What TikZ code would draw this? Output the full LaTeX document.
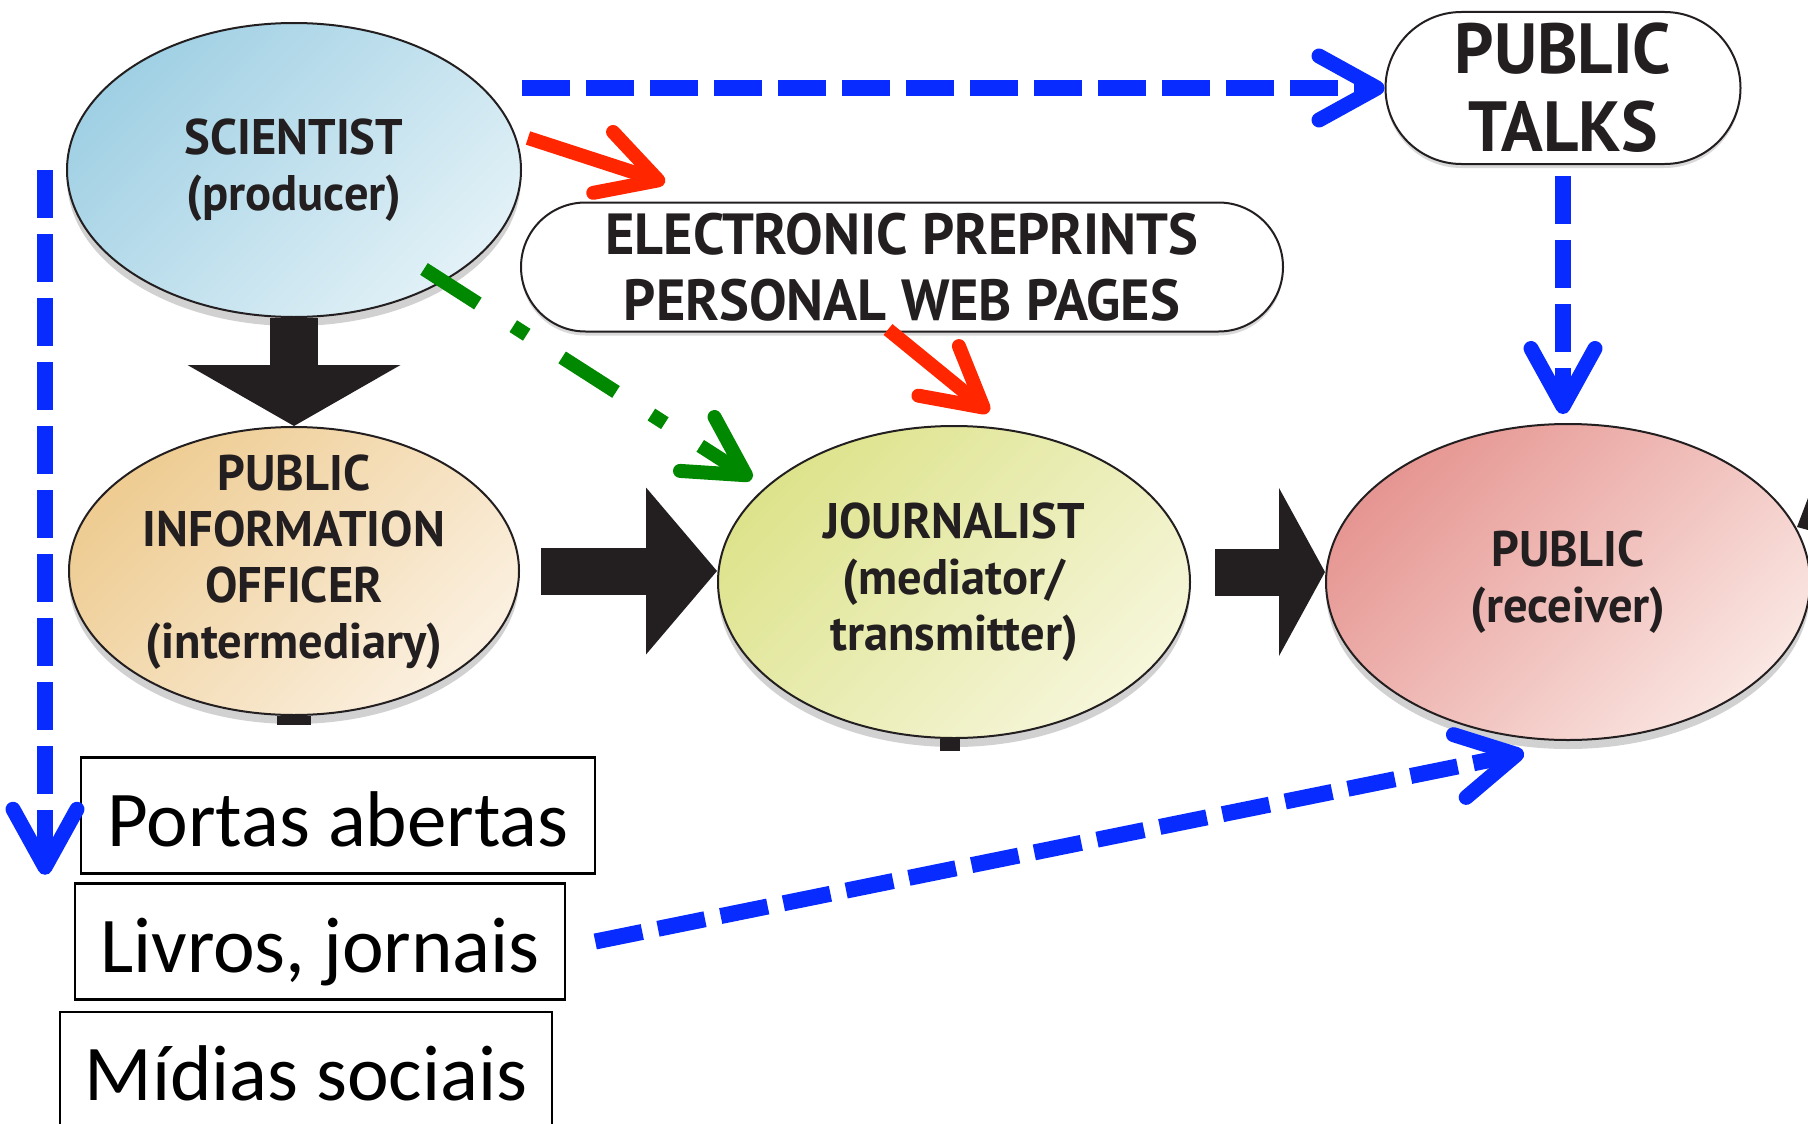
\documentclass[tikz,border=0pt]{standalone}
\usepackage{fontspec}
\setmainfont{Carlito}
\newfontfamily\boxfont[FakeStretch=0.97]{PT Sans}
\usepackage{xcolor}
\usepackage{tikz}
\usetikzlibrary{shapes.geometric, shapes.misc, arrows.meta, shadows, calc}

\definecolor{sciblue}{RGB}{160,208,228}
\definecolor{scilight}{RGB}{226,241,247}
\definecolor{piotan}{RGB}{238,204,146}
\definecolor{piolight}{RGB}{251,240,224}
\definecolor{jouryel}{RGB}{221,227,140}
\definecolor{jourlight}{RGB}{246,246,218}
\definecolor{pubred}{RGB}{230,150,146}
\definecolor{publight}{RGB}{250,230,226}
\definecolor{dashblue}{RGB}{8,44,255}
\definecolor{arrowred}{RGB}{255,38,0}
\definecolor{arrowgreen}{RGB}{0,136,0}
\definecolor{ink}{RGB}{35,31,32}

\begin{document}
\begin{tikzpicture}[x=1pt, y=-1pt,
    actor/.style={ellipse, draw=ink, line width=2pt, inner sep=0pt,
      drop shadow={shadow xshift=0pt, shadow yshift=-9pt, fill=black, opacity=0.18}},
    actortext/.style={font=\boxfont\bfseries\fontsize{50}{56}\selectfont, text=ink, align=center},
    channel/.style={rounded rectangle, draw=ink, line width=2pt, fill=white, inner sep=0pt,
      text=ink, align=center,
      drop shadow={shadow xshift=0pt, shadow yshift=-4pt, fill=black, opacity=0.15}},
    media/.style={rectangle, draw=black, line width=2.5pt, minimum height=116pt, inner sep=0pt,
      font=\fontsize{79}{90}\selectfont, text height=61pt, text depth=0pt},
    blockarrow/.style={ink, line width=47pt},
    bluedash/.style={dashblue, line width=16pt, dash pattern=on 48pt off 16pt,
      -{Straight Barb[length=58pt, width=64pt, line width=15pt, round]}},
    redline/.style={arrowred, line width=14pt,
      -{Straight Barb[length=58pt, width=64pt, line width=14pt, round]}},
    greendash/.style={arrowgreen, line width=14pt, dash pattern=on 64pt off 42pt on 16pt off 42pt,
      -{Straight Barb[length=58pt, width=64pt, line width=14pt, round]}}]

  \fill[white] (0,0) rectangle (1808,1124);
  \useasboundingbox (0,0) rectangle (1808,1124);
  \clip (0,0) rectangle (1808,1124);

  \node[actor, top color=sciblue, bottom color=scilight, shading angle=45, minimum width=454pt, minimum height=294pt] (sci) at (294,170) {};
  \node[actor, top color=piotan, bottom color=piolight, shading angle=45, minimum width=450pt, minimum height=288pt] (pio) at (294,571) {};
  \node[actor, top color=jouryel, bottom color=jourlight, shading angle=45, minimum width=472pt, minimum height=312pt] (jour) at (954,582) {};
  \node[actor, top color=pubred, bottom color=publight, shading angle=45, minimum width=484pt, minimum height=316pt] (pub) at (1568,582) {};

  \node[actortext] (scitext) at (sci) {SCIENTIST\\(producer)};
  \node[actortext] (piotext) at ([yshift=9pt]pio.center) {PUBLIC\\INFORMATION\\OFFICER\\(intermediary)};
  \node[actortext] (jourtext) at (jour) {JOURNALIST\\(mediator/\\transmitter)};
  \node[actortext] (pubtext) at (pub) {PUBLIC\\(receiver)};

  \node[channel, minimum width=762pt, minimum height=129pt,
    font=\boxfont\bfseries\fontsize{58}{66}\selectfont] (elec) at (902,267) {ELECTRONIC PREPRINTS\\PERSONAL WEB PAGES};
  \node[channel, minimum width=355pt, minimum height=152pt,
    font=\boxfont\bfseries\fontsize{71}{78}\selectfont] (talks) at (1563,88) {PUBLIC\\TALKS};

  \node[media, minimum width=514pt] (portas) at (338,815.5) {Portas abertas};
  \node[media, minimum width=490pt] (livros) at (320,941.5) {Livros, jornais};
  \node[media, minimum width=492pt] (midias) at (306,1070) {Mídias sociais};

  \draw[blockarrow, line width=48pt, -{Triangle[length=61pt, width=213pt, line width=0pt]}] (sci.south) -- (pio.north);
  \draw[blockarrow, -{Triangle[length=71pt, width=167pt, line width=0pt]}] ([xshift=21pt]pio.east) -- (pio.east -| jour.west);
  \draw[blockarrow, -{Triangle[length=46pt, width=168pt, line width=0pt]}] ([xshift=24pt,yshift=10pt]jour.east) -- ([yshift=10pt]pub.west);
  \draw[ink, line width=34pt] (pio.south) -- ++(0,9);
  \draw[ink, line width=20pt] ([xshift=-4pt]jour.south) -- ++(0,12);
  \fill[ink] (1797,527) -- (1808,498) -- (1808,530) -- cycle;

  \draw[bluedash] (sci.east |- talks.west) -- (talks.west);
  \draw[bluedash] ([yshift=-11pt]talks.south) -- ([yshift=9pt]talks.south |- pub.north);
  \draw[bluedash] ([xshift=-21pt]sci.west) -- ([xshift=-21pt]sci.west |- portas.south);
  \draw[bluedash] ([xshift=29pt]livros.east) -- ($(pub.south)+(-44,12)$);

  \draw[redline] ($(sci.east)+(6,-32)$) -- ($(elec.north)+(-237,-19)$);
  \draw[redline] ($(elec.south)+(-14,-3)$) -- ($(jour.north)+(35,-13)$);
  \draw[greendash] ($(sci.center)+(130,99)$) -- ($(jour.center)+(-202,-103)$);
\end{tikzpicture}
\end{document}
